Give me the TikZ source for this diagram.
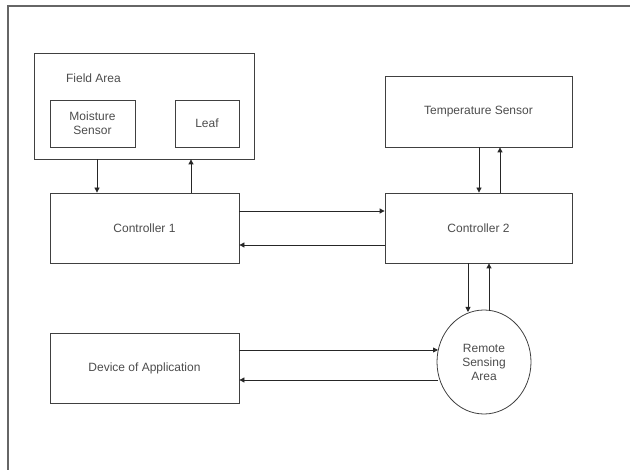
\documentclass[tikz,border=0pt]{standalone}
\usepackage{fontspec}
\setmainfont{Liberation Sans}
\usepackage{tikz}
\usetikzlibrary{arrows.meta}
\usetikzlibrary{shapes.geometric}
\tikzset{
  blockbox/.style={draw=black!75, line width=0.8pt, rectangle, align=center,
    text=black!70, font=\fontsize{12}{14}\selectfont},
  areabox/.style={blockbox, ellipse, inner sep=0pt},
  link/.style={draw=black!85, line width=0.8pt, -{Triangle[length=5pt,width=5pt]}}
}

\begin{document}
\begin{tikzpicture}[x=1pt, y=-1pt]
        \useasboundingbox (0,0) rectangle (630,470);
        % frame
        \draw[black!60, line width=1.4pt] (8,470) -- (8,6) -- (630,6);
        % field area
        \node[blockbox, minimum width=220, minimum height=106] (field) at (144,106) {};
        \node[text=black!70, font=\fontsize{12}{14}\selectfont] (fieldlbl) at (93.5,78) {Field Area};
        \node[blockbox, minimum width=85, minimum height=47] (moist) at (92.5,123.5) {Moisture\\Sensor};
        \node[blockbox, minimum width=64, minimum height=47] (leaf) at (207,123.5) {Leaf};
        % controllers
        \node[blockbox, minimum width=189, minimum height=70] (ctrlA) at (144.5,228) {Controller 1};
        \node[blockbox, minimum width=187, minimum height=71] (temp) at (478.5,111.5) {Temperature Sensor};
        \node[blockbox, minimum width=187, minimum height=70] (ctrlB) at (478.5,228) {Controller 2};
        % application side
        \node[blockbox, minimum width=189, minimum height=70] (device) at (144.5,368) {Device of Application};
        \node[areabox, minimum width=94, minimum height=104] (remote) at (484,362) {Remote\\Sensing\\Area};
        % arrows
        \draw[link] (97,0 |- field.south) -- (97,0 |- ctrlA.north);
        \draw[link] (191,0 |- ctrlA.north) -- (191,0 |- field.south);
        \draw[link] (479,0 |- temp.south) -- (479,0 |- ctrlB.north);
        \draw[link] (500,0 |- ctrlB.north) -- (500,0 |- temp.south);
        \draw[link] (ctrlA.east |- 0,211) -- (ctrlB.west |- 0,211);
        \draw[link] (ctrlB.west |- 0,245) -- (ctrlA.east |- 0,245);
        \draw[link] (468,0 |- ctrlB.south) -- (468,312);
        \draw[link] (489,311) -- (489,0 |- ctrlB.south);
        \draw[link] (device.east |- 0,350) -- (438,350);
        \draw[link] (438,380) -- (device.east |- 0,380);
\end{tikzpicture}
\end{document}
